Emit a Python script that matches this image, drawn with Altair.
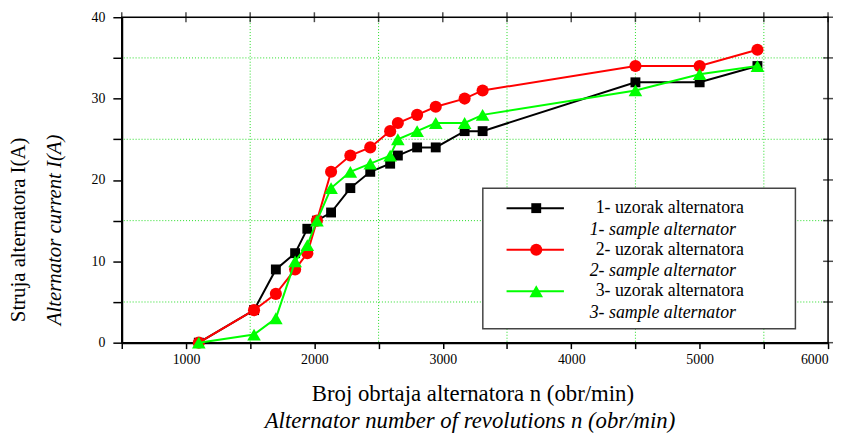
import altair as alt
import pandas as pd

# ---- data ----
rpm = [1100, 1530, 1700, 1850, 1945, 2020, 2130, 2280, 2435, 2590, 2650, 2800, 2945, 3170, 3310, 4500, 5000, 5450]
current_1 = [0, 4, 9, 11, 14, 15, 16, 19, 21, 22, 23, 24, 24, 26, 26, 32, 32, 34]
current_2 = [0, 4, 6, 9, 11, 15, 21, 23, 24, 26, 27, 28, 29, 30, 31, 34, 34, 36]
current_3 = [0, 1, 3, 10, 12, 15, 19, 21, 22, 23, 25, 26, 27, 27, 28, 31, 33, 34]

labels_sr = ["1- uzorak alternatora", "2- uzorak alternatora", "3- uzorak alternatora"]
labels_en = ["1- sample alternator", "2- sample alternator", "3- sample alternator"]

x_ticks = [500, 1000, 1500, 2000, 2500, 3000, 3500, 4000, 4500, 5000, 5500, 6000]
y_ticks = [0, 5, 10, 15, 20, 25, 30, 35, 40]
x_grid = [1500, 2500, 3500, 4500, 5500]
y_grid = [5, 15, 25, 35]

x_title_sr = "Broj obrtaja alternatora   n (obr/min)"
x_title_en = "Alternator number of revolutions  n (obr/min)"
y_title_sr = "Struja alternatora  I(A)"
y_title_en = "Alternator current  I(A)"

# ---- styles ----
colors = ["#000000", "#ff0000", "#00ff00"]
shapes = ["square", "circle", "triangle-up"]
sizes = [100, 150, 190]
FONT = "Liberation Serif"
GRID = "#22dd22"

xs = alt.Scale(domain=[500, 6000], nice=False, zero=False)
ys = alt.Scale(domain=[0, 40], nice=False, zero=False)

x_axis = alt.Axis(values=x_ticks, title=None, grid=False,
                  labelExpr="(datum.value % 1000 == 0 && datum.value > 500) ? datum.value : ''",
                  labelFlush=True, labelOverlap=False, labelFont=FONT, labelFontSize=14,
                  labelColor="black", labelPadding=4, tickSize=6, tickColor="black",
                  tickWidth=1.5, domainColor="black", domainWidth=2)
y_axis = alt.Axis(values=y_ticks, title=None, grid=False,
                  labelExpr="datum.value % 10 == 0 ? datum.value : ''",
                  labelOverlap=False, labelFont=FONT, labelFontSize=14, labelColor="black",
                  labelPadding=8, tickSize=9, tickColor="black", tickWidth=1.5,
                  domainColor="black", domainWidth=2)

layers = []

# grid lines (green dotted)
layers.append(alt.Chart(pd.DataFrame({"gx": x_grid})).mark_rule(
    color=GRID, strokeDash=[1, 2], strokeWidth=1
).encode(x=alt.X("gx:Q", scale=xs, axis=x_axis)))
layers.append(alt.Chart(pd.DataFrame({"gy": y_grid})).mark_rule(
    color=GRID, strokeDash=[1, 2], strokeWidth=1
).encode(y=alt.Y("gy:Q", scale=ys, axis=y_axis)))

# frame
one = pd.DataFrame({"k": [0]})
layers.append(alt.Chart(one).mark_rect(filled=False, stroke="black", strokeWidth=1.5).encode(
    x=alt.value(0), x2=alt.value(714), y=alt.value(0), y2=alt.value(329)))

# inward ticks on the top and right frame edges
layers.append(alt.Chart(pd.DataFrame({"tx": x_ticks})).mark_tick(
    color="black", thickness=1.5, size=10, orient="vertical"
).encode(x=alt.X("tx:Q", scale=xs, axis=x_axis), y=alt.value(0)))
layers.append(alt.Chart(pd.DataFrame({"ty": y_ticks})).mark_tick(
    color="black", thickness=1.5, size=10, orient="horizontal"
).encode(y=alt.Y("ty:Q", scale=ys, axis=y_axis), x=alt.value(714)))

# series
for i, vals in enumerate([current_1, current_2, current_3]):
    df = pd.DataFrame({"rpm": rpm, "I": vals})
    xe = alt.X("rpm:Q", scale=xs, axis=x_axis)
    ye = alt.Y("I:Q", scale=ys, axis=y_axis)
    base = alt.Chart(df)
    layers.append(base.mark_line(color=colors[i], strokeWidth=2).encode(x=xe, y=ye, order="rpm:Q"))
    layers.append(base.mark_point(color=colors[i], filled=True, opacity=1, shape=shapes[i],
                                  size=sizes[i]).encode(x=xe, y=ye))

# legend box
layers.append(alt.Chart(one).mark_rect(fill="white", stroke="#444444", strokeWidth=1.5).encode(
    x=alt.value(365), x2=alt.value(681), y=alt.value(173), y2=alt.value(315)))

for i in range(3):
    yc = 193 + 42 * i
    layers.append(alt.Chart(one).mark_rule(color=colors[i], strokeWidth=2).encode(
        x=alt.value(389), x2=alt.value(447), y=alt.value(yc)))
    layers.append(alt.Chart(one).mark_point(color=colors[i], filled=True, opacity=1,
                                            shape=shapes[i], size=sizes[i]).encode(
        x=alt.value(419), y=alt.value(yc)))
    layers.append(alt.Chart(pd.DataFrame({"t": [labels_sr[i]]})).mark_text(
        font=FONT, fontSize=18, align="center", baseline="middle").encode(
        x=alt.value(554), y=alt.value(yc), text="t:N"))
    layers.append(alt.Chart(pd.DataFrame({"t": [labels_en[i]]})).mark_text(
        font=FONT, fontSize=18, fontStyle="italic", align="center", baseline="middle"
    ).encode(x=alt.value(547), y=alt.value(yc + 22), text="t:N"))

# axis titles
def text_layer(t, x, y, italic=False, angle=0, size=21):
    kw = dict(font=FONT, fontSize=size, align="center", baseline="middle")
    if italic:
        kw["fontStyle"] = "italic"
    if angle:
        kw["angle"] = angle
    return alt.Chart(pd.DataFrame({"t": [t]})).mark_text(**kw).encode(
        x=alt.value(x), y=alt.value(y), text="t:N")

layers.append(text_layer(x_title_sr, 355, 381, size=23))
layers.append(text_layer(x_title_en, 352, 408, italic=True, size=23))
layers.append(text_layer(y_title_sr, -104, 215, angle=270))
layers.append(text_layer(y_title_en, -67, 215, italic=True, angle=270))

chart = alt.layer(*layers).properties(width=714, height=329, padding=0)

chart.save("out.html", embed_options={"renderer": "svg", "actions": False})
